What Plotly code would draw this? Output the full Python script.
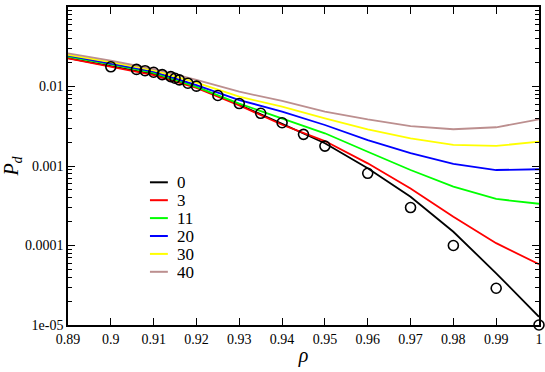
import plotly.graph_objects as go

# rho grid of the simulated curves
rho = [0.89, 0.90, 0.91, 0.92, 0.93, 0.94, 0.95, 0.96, 0.97, 0.98, 0.99, 1.00]

pd_0 = [0.0228, 0.0181, 0.0143, 0.0098, 0.0059, 0.0034, 0.00193, 0.00094, 0.000411, 0.000149, 4.47e-5, 1.27e-5]
pd_3 = [0.0226, 0.0178, 0.0139, 0.0096, 0.0058, 0.0033, 0.00206, 0.00108, 0.00052, 0.00023, 0.000107, 5.8e-5]
pd_11 = [0.0237, 0.0190, 0.0148, 0.0099, 0.0061, 0.00398, 0.00258, 0.00151, 0.00089, 0.00055, 0.000385, 0.000335]
pd_20 = [0.0244, 0.0196, 0.0154, 0.0104, 0.00676, 0.00483, 0.00328, 0.00212, 0.00145, 0.00106, 0.00089, 0.00091]
pd_30 = [0.0251, 0.0203, 0.0159, 0.0112, 0.00745, 0.00557, 0.00398, 0.00289, 0.00223, 0.00184, 0.00179, 0.00202]
pd_40 = [0.0261, 0.0211, 0.0166, 0.0121, 0.0086, 0.00658, 0.00482, 0.00386, 0.00318, 0.0029, 0.00307, 0.00386]

noms = ["0", "3", "11", "20", "30", "40"]
series = [pd_0, pd_3, pd_11, pd_20, pd_30, pd_40]
couleurs = ["#000000", "#ff0000", "#00ff00", "#0000ff", "#ffff00", "#bc8f8f"]

# points (cercles)
rho_pts = [0.900, 0.906, 0.908, 0.910, 0.912, 0.914, 0.915, 0.916, 0.918, 0.920,
           0.925, 0.930, 0.935, 0.940, 0.945, 0.950, 0.960, 0.970, 0.980, 0.990, 1.000]
pd_pts = [0.0177, 0.0164, 0.0158, 0.0151, 0.0141, 0.0133, 0.0127, 0.0121, 0.0110, 0.0101,
          0.0077, 0.0061, 0.0046, 0.0035, 0.0025, 0.00178, 0.00081, 0.0003, 0.0001, 2.9e-5, 1.0e-5]

xticks = [0.89, 0.90, 0.91, 0.92, 0.93, 0.94, 0.95, 0.96, 0.97, 0.98, 0.99, 1.00]
xlabels = ["0.89", "0.9", "0.91", "0.92", "0.93", "0.94", "0.95", "0.96", "0.97", "0.98", "0.99", "1"]
yticks = [1e-5, 1e-4, 1e-3, 1e-2, 1e-1]
ylabels = ["1e-05", "0.0001", "0.001", "0.01", "0.1"]
# petites graduations 2..9 de chaque décade
yminor = [m * d for d in yticks[:-1] for m in range(2, 10)]

police = '"Liberation Serif", "Times New Roman", serif'

fig = go.Figure()
for nom, s, c in zip(noms, series, couleurs):
    fig.add_trace(go.Scatter(x=rho, y=s, mode="lines", name=nom,
                             line=dict(color=c, width=1.8), showlegend=False))

fig.add_trace(go.Scatter(x=rho_pts, y=pd_pts, mode="markers", showlegend=False,
                         marker=dict(symbol="circle-open", size=10, color="black",
                                     line=dict(width=1.6)),
                         cliponaxis=False))

# légende dessinée à la main (comme xmgrace)
for i, (nom, c) in enumerate(zip(noms, couleurs)):
    yp = (325 - (182.3 + 17.9 * i)) / 318
    fig.add_shape(type="line", xref="paper", yref="paper",
                  x0=0.174, x1=0.212, y0=yp, y1=yp,
                  line=dict(color=c, width=2))
    fig.add_annotation(xref="paper", yref="paper", x=0.228, y=yp, text=nom,
                       showarrow=False, xanchor="left", yanchor="middle", height=16,
                       font=dict(size=17, color="black", family=police))

axe = dict(showline=True, linecolor="black", linewidth=1.6, mirror="ticks",
           ticks="inside", tickcolor="black", tickwidth=1.4, showgrid=False,
           zeroline=False, automargin=False,
           tickfont=dict(size=14, color="black", family=police))

fig.update_xaxes(range=[0.89, 1.0], tickvals=xticks, ticktext=xlabels, ticklen=7,
                 title=dict(text="<i>ρ</i>", font=dict(size=20, family=police), standoff=2), **axe)
fig.update_yaxes(type="log", range=[-5, -1], tickvals=yticks, ticktext=ylabels, ticklen=7,
                 minor=dict(tickvals=yminor, ticks="inside", ticklen=4, tickcolor="black",
                            tickwidth=1.2, showgrid=False),
                 title=dict(text="<i>P<sub>d</sub></i>", font=dict(size=20, family=police), standoff=4),
                 **axe)

fig.update_layout(width=545, height=372, margin=dict(l=68, r=6, t=7, b=47),
                  plot_bgcolor="white", paper_bgcolor="white",
                  font=dict(family=police, color="black"))

fig.write_html("out.html", config={"displayModeBar": False},
               post_script="document.body.style.margin='0';")
